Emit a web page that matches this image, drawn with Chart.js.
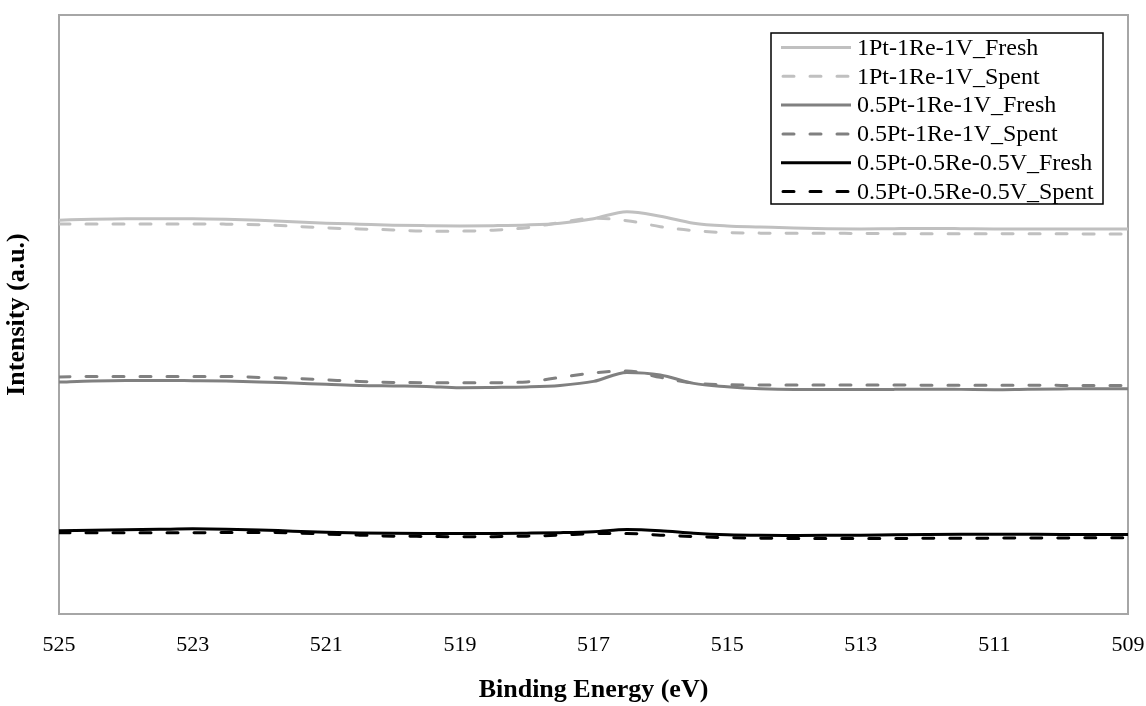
<!DOCTYPE html>
<html>
<head>
<meta charset="utf-8">
<script src="https://cdn.jsdelivr.net/npm/chart.js@4"></script>
<style>
  html, body { margin: 0; padding: 0; background: #ffffff; }
  #wrap { width: 1146px; height: 706px; }
</style>
</head>
<body>
<div id="wrap"><canvas id="c" width="1146" height="706"></canvas></div>
<script>
// Binding energy (eV), every 0.5 eV from 525 to 509
const energies = [525,524.5,524,523.5,523,522.5,522,521.5,521,520.5,520,519.5,519,518.5,518,517.5,517,516.5,516,515.5,515,514.5,514,513.5,513,512.5,512,511.5,511,510.5,510,509.5,509];

const seriesNames = ["1Pt-1Re-1V_Fresh","1Pt-1Re-1V_Spent","0.5Pt-1Re-1V_Fresh","0.5Pt-1Re-1V_Spent","0.5Pt-0.5Re-0.5V_Fresh","0.5Pt-0.5Re-0.5V_Spent"];

const pt1re1v1Fresh = [394.5,395.5,396,396,396,395.5,394.5,393,391.5,390.5,389.5,389,388.7,389,389.7,391.5,396,403,398.5,391.5,388.7,387.7,386.7,386,385.7,386,386.2,386,385.7,385.7,385.7,385.7,385.7];
const pt1re1v1Spent = [390.7,390.7,390.7,390.7,390.7,390.5,390,388.5,386.7,385.7,384.7,383.5,383.5,384.5,387,392,396.5,394,388,384,382,381.5,381.3,381.3,381.2,381,381,381,381,380.8,380.8,380.7,380.7];
const pt05re1v1Fresh = [232.3,233.5,234,234,233.7,233.3,232.5,231.3,230.2,229,228.5,228,226.7,227,227.5,229,233,242,239.5,231,227.7,225.7,225,225,225,225,225.2,225,224.7,225.2,225.5,225.7,225.7];
const pt05re1v1Spent = [237.5,238,238,238,238,238,237,236,234.5,233,232,231.7,231.7,231.7,232.5,237,241.5,243.5,237,231.3,229.7,229.3,229.3,229.3,229.3,229.3,229.2,229.2,229.2,229.2,229,229,229];
const pt05re05v05Fresh = [83.3,83.8,84.3,84.8,85.3,85,84.2,83,82,81.2,80.8,80.7,80.7,80.7,81,81.5,82.5,84.7,83.5,81,79.4,78.8,78.7,78.8,79,79.4,79.7,79.9,80,79.8,79.7,79.7,79.7];
const pt05re05v05Spent = [81.3,81.3,81.3,81.3,81.3,81.7,81.7,81.3,80,79,78,77.7,77.3,77.5,78,79,80.5,80.7,79,77.5,76.5,76,75.7,75.7,75.7,75.7,75.8,75.9,76,76.1,76.2,76.3,76.3];

const xTicks = [525,523,521,519,517,515,513,511,509];

const allValues = [pt1re1v1Fresh, pt1re1v1Spent, pt05re1v1Fresh, pt05re1v1Spent, pt05re05v05Fresh, pt05re05v05Spent];
const colors = ["#c0c0c0","#c0c0c0","#808080","#808080","#000000","#000000"];
const dashed = [false,true,false,true,false,true];

const datasets = allValues.map((vals, i) => ({
  label: seriesNames[i],
  data: energies.map((e, j) => ({ x: e, y: vals[j] })),
  borderColor: colors[i],
  backgroundColor: colors[i],
  borderWidth: 3,
  borderDash: dashed[i] ? [11, 16] : [],
  borderCapStyle: dashed[i] ? 'round' : 'butt',
  borderJoinStyle: 'round',
  pointRadius: 0,
  fill: false,
  cubicInterpolationMode: 'monotone'
}));
const FONT = "'Liberation Serif', 'Times New Roman', serif";

const frame = {
  id: 'frame',
  beforeDatasetsDraw(chart) {
    const a = chart.chartArea, ctx = chart.ctx;
    ctx.save();
    ctx.strokeStyle = '#a6a6a6';
    ctx.lineWidth = 2;
    ctx.strokeRect(a.left, a.top, a.right - a.left, a.bottom - a.top);
    ctx.restore();
  }
};

const boxLegend = {
  id: 'boxLegend',
  afterDraw(chart) {
    const ctx = chart.ctx;
    const x0 = 771, y0 = 33, w = 332, h = 171;
    const rowH = 28.8, firstRow = 47.5;
    ctx.save();
    ctx.fillStyle = '#ffffff';
    ctx.fillRect(x0, y0, w, h);
    ctx.strokeStyle = '#000000';
    ctx.lineWidth = 1.5;
    ctx.strokeRect(x0, y0, w, h);
    ctx.font = "24px " + FONT;
    ctx.textBaseline = 'middle';
    ctx.textAlign = 'left';
    chart.data.datasets.forEach((ds, i) => {
      const y = firstRow + i * rowH;
      ctx.beginPath();
      ctx.strokeStyle = ds.borderColor;
      ctx.lineWidth = 3;
      ctx.lineCap = ds.borderCapStyle;
      ctx.setLineDash(ds.borderDash);
      ctx.moveTo(ds.borderDash.length ? 783 : 781, y);
      ctx.lineTo(851, y);
      ctx.stroke();
      ctx.setLineDash([]);
      ctx.fillStyle = '#000000';
      ctx.fillText(ds.label, 857, y + 1);
    });
    ctx.restore();
  }
};

new Chart(document.getElementById('c'), {
  type: 'line',
  data: { datasets },
  options: {
    responsive: false,
    animation: false,
    layout: { padding: { left: 0, right: 18, top: 15, bottom: 0 } },
    plugins: { legend: { display: false }, tooltip: { enabled: false } },
    scales: {
      x: {
        type: 'linear',
        reverse: true,
        min: 509, max: 525,
        afterBuildTicks(scale) { scale.ticks = xTicks.map(v => ({ value: v })); },
        afterFit(scale) { scale.height = 92; scale.paddingLeft = 0; scale.paddingRight = 0; },
        grid: { display: false, drawTicks: false },
        border: { display: false },
        ticks: { color: '#000', font: { family: FONT, size: 22 }, padding: 18, maxRotation: 0, autoSkip: false },
        title: { display: true, text: 'Binding Energy (eV)', color: '#000', font: { family: FONT, size: 26, weight: 'bold' }, padding: { top: 0, bottom: 0 } }
      },
      y: {
        min: 0, max: 600,
        afterFit(scale) { scale.width = 59; },
        grid: { display: false, drawTicks: false },
        border: { display: false },
        ticks: { display: false },
        title: { display: true, text: 'Intensity (a.u.)', color: '#000', font: { family: FONT, size: 26, weight: 'bold' }, padding: { top: 2, bottom: 0 } }
      }
    }
  },
  plugins: [frame, boxLegend]
});
</script>
</body>
</html>
